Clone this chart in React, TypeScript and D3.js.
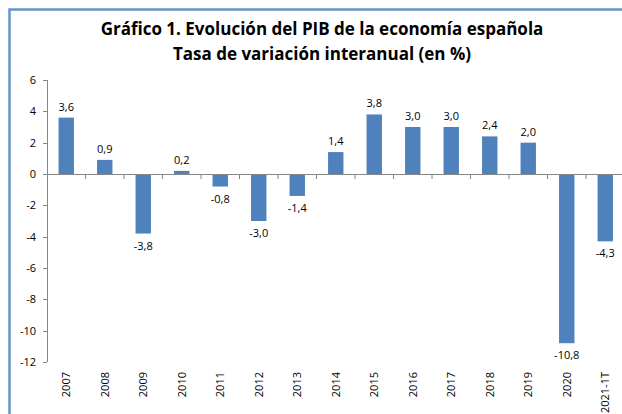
import React from 'react';
import * as d3 from 'd3';

const categories = ['2007','2008','2009','2010','2011','2012','2013','2014','2015','2016','2017','2018','2019','2020','2021-1T'];
const values = [3.6, 0.9, -3.8, 0.2, -0.8, -3.0, -1.4, 1.4, 3.8, 3.0, 3.0, 2.4, 2.0, -10.8, -4.3];
const yTicks = [6, 4, 2, 0, -2, -4, -6, -8, -10, -12];
const titleLines = ['Gráfico 1. Evolución del PIB de la economía española', 'Tasa de variación interanual (en %)'];

const W = 622, H = 414;
const font = "'Open Sans', 'Noto Sans', sans-serif";

export default function App() {
  const x = d3.scaleBand<string>().domain(categories).range([47, 47 + 38.5 * categories.length]).paddingInner(0.6).paddingOuter(0.3);
  const y = d3.scaleLinear().domain([-12, 6]).range([362, 80]);
  const fmt = (v: number) => v.toFixed(1).replace('.', ',');
  const step = x.step();
  const x0 = 47;
  return (
    <svg width={W} height={H} style={{ position: 'absolute', left: 0, top: 0, background: '#fff' }} fontFamily={font}>
      <path d={`M9.5,${H} V9.5 H${W}`} fill="none" stroke="#4f81bd" strokeWidth={2.5} opacity={0.85} />
      {titleLines.map((t, i) => (
        <text key={i} x={322} y={35 + i * 25} textAnchor="middle" fontSize={17} fontWeight="bold" fill="#000">{t}</text>
      ))}
      {/* y axis */}
      <line x1={x0 + 0.5} x2={x0 + 0.5} y1={y(6)} y2={y(-12)} stroke="#868686" />
      {yTicks.map(t => (
        <g key={t}>
          <line x1={x0 - 4} x2={x0} y1={Math.round(y(t)) + 0.5} y2={Math.round(y(t)) + 0.5} stroke="#868686" />
          <text x={36} y={y(t) + 4} textAnchor="end" fontSize={11} fill="#000">{t}</text>
        </g>
      ))}
      {/* bars */}
      {categories.map((c, i) => {
        const v = values[i];
        const top = y(Math.max(0, v));
        const bot = y(Math.min(0, v));
        return (
          <rect key={c} x={x(c)} y={top} width={x.bandwidth()} height={bot - top} fill="#4f81bd" />
        );
      })}
      {/* zero axis */}
      <line x1={x0} x2={W} y1={Math.round(y(0)) + 0.5} y2={Math.round(y(0)) + 0.5} stroke="#868686" />
      {categories.map((c, i) => (
        <line key={c} x1={x0 + step * (i + 1)} x2={x0 + step * (i + 1)} y1={y(0)} y2={y(0) + 5} stroke="#868686" />
      ))}
      {/* value labels */}
      {categories.map((c, i) => {
        const v = values[i];
        const cx = (x(c) as number) + x.bandwidth() / 2;
        const ly = v >= 0 ? y(v) - 7 : y(v) + 16;
        return <text key={c} x={cx} y={ly} textAnchor="middle" fontSize={11} fill="#000">{fmt(v)}</text>;
      })}
      {/* category labels */}
      {categories.map(c => {
        const cx = (x(c) as number) + x.bandwidth() / 2;
        return (
          <text key={c} transform={`translate(${cx + 4},372) rotate(-90)`} textAnchor="end" fontSize={11} fill="#000">{c}</text>
        );
      })}
    </svg>
  );
}
